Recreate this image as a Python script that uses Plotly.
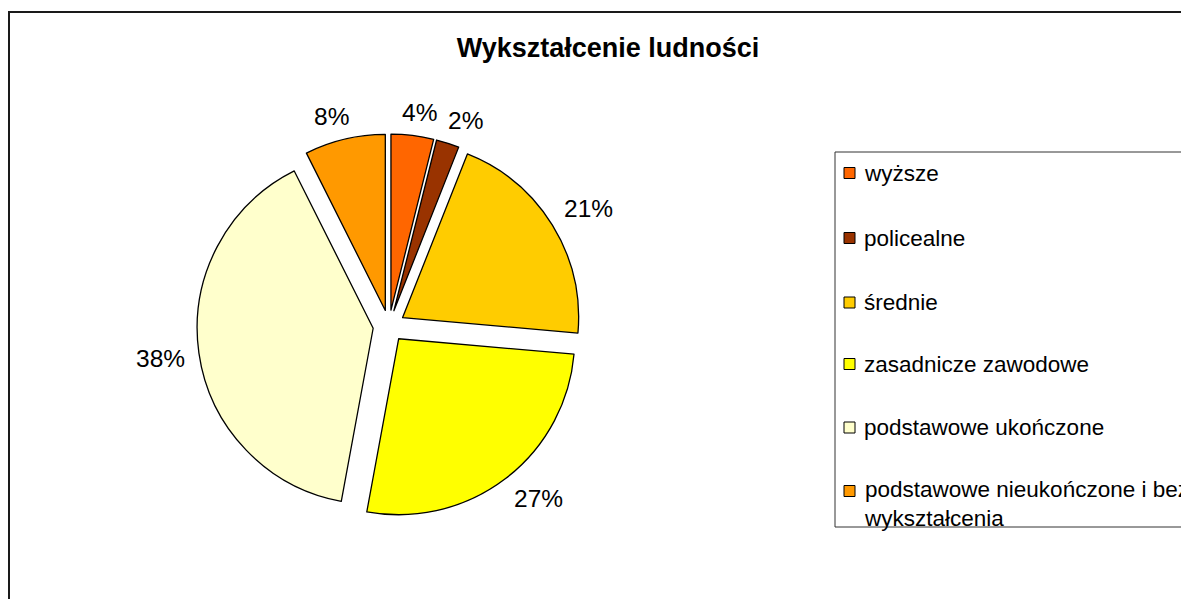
import math
import plotly.graph_objects as go

# ---- data ----
categories = ["wyższe", "policealne", "średnie", "zasadnicze zawodowe",
              "podstawowe ukończone", "podstawowe nieukończone i bez wykształcenia"]
legend_labels = ["wyższe", "policealne", "średnie", "zasadnicze zawodowe",
                 "podstawowe ukończone", "podstawowe nieukończone i bez<br>wykształcenia"]
# slice shares as drawn in the picture (percent of the full circle)
values = [3.9, 2.1, 20.4, 26.5, 39.7, 7.4]
# percentage labels as printed on the chart
pct_labels = ["4%", "2%", "21%", "27%", "38%", "8%"]
colors = ["#FF6600", "#993300", "#FFCC00", "#FFFF00", "#FFFFCC", "#FF9900"]
title_text = "Wykształcenie ludności"

W, H = 1189, 599
FONT = "Liberation Sans, Arial, sans-serif"
LABEL_SIZE = 24.5


def px(x):
    return x / W


def py(y):
    return 1 - y / H


# pie geometry (pixels in the figure)
cx, cy = 381, 318
dom_half = 192
pull = 0.0909
R = dom_half / (1 + pull)

fig = go.Figure()
fig.add_trace(go.Pie(
    labels=categories,
    values=values,
    sort=False,
    direction="clockwise",
    rotation=0,
    pull=[pull] * len(values),
    marker=dict(colors=colors, line=dict(color="black", width=1.3)),
    textinfo="none",
    domain=dict(x=[px(cx - dom_half), px(cx + dom_half)],
                y=[py(cy + dom_half), py(cy - dom_half)]),
    showlegend=False,
    automargin=False,
    hoverinfo="label",
))

shapes = []
annotations = []


def clamp(v):
    return max(-1.0, min(1.0, v))


# percentage labels placed outside each slice, at the slice's mid angle
total = sum(values)
cum = 0
D = R * (1 + pull) + 14
for v, txt in zip(values, pct_labels):
    mid = (cum + v / 2) / total * 2 * math.pi
    cum += v
    dx, dy = math.sin(mid), -math.cos(mid)
    tw = (0.556 * (len(txt) - 1) + 0.889) * LABEL_SIZE
    th = 18
    lx = cx + dx * D + tw / 2 * clamp(2.5 * dx)
    ly = cy + dy * D + th / 2 * clamp(2.5 * dy)
    annotations.append(dict(x=px(lx), y=py(ly), xref="paper", yref="paper",
                            text=txt, showarrow=False, xanchor="center",
                            yanchor="middle",
                            font=dict(family=FONT, size=LABEL_SIZE, color="black")))

# outer chart frame
shapes.append(dict(type="rect", xref="paper", yref="paper",
                   x0=px(1), x1=px(1220), y0=py(4), y1=py(640),
                   line=dict(color="#1a1a1a", width=2), layer="below"))

# legend box
shapes.append(dict(type="rect", xref="paper", yref="paper",
                   x0=px(827), x1=px(1220), y0=py(519), y1=py(144),
                   line=dict(color="#333333", width=1), layer="below"))

leg_y = [165, 230, 294.5, 356, 419.5, 483]
for lab, col, yc in zip(legend_labels, colors, leg_y):
    shapes.append(dict(type="rect", xref="paper", yref="paper",
                       x0=px(836), x1=px(847), y0=py(yc + 5.5), y1=py(yc - 5.5),
                       fillcolor=col, line=dict(color="black", width=1)))
    multi = "<br>" in lab
    annotations.append(dict(
        x=px(854), y=py(yc - 16) if multi else py(yc), xref="paper", yref="paper",
        text=lab, showarrow=False, xanchor="left",
        yanchor="top" if multi else "middle", align="left",
        font=dict(family=FONT, size=22.5, color="black")))

fig.update_layout(
    width=W, height=H,
    margin=dict(l=0, r=0, t=0, b=0),
    paper_bgcolor="white",
    plot_bgcolor="white",
    title=dict(text="<b>" + title_text + "</b>", x=px(600), xanchor="center",
               y=py(40), yanchor="middle",
               font=dict(family=FONT, size=27, color="black")),
    shapes=shapes,
    annotations=annotations,
    showlegend=False,
)

fig.write_html("out.html")
